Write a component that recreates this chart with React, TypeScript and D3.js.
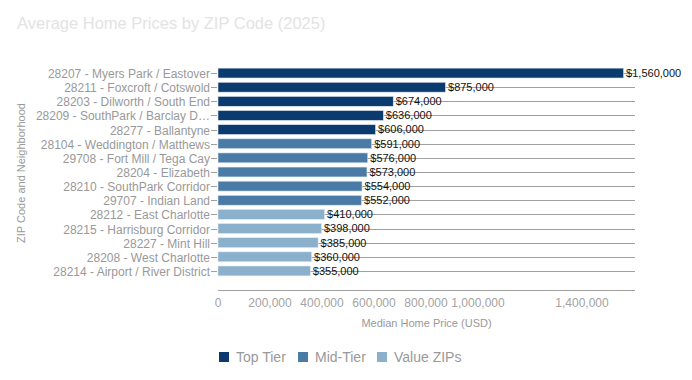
import React from "react";
import * as d3 from "d3";

const categories = [
  "28207 - Myers Park / Eastover",
  "28211 - Foxcroft / Cotswold",
  "28203 - Dilworth / South End",
  "28209 - SouthPark / Barclay D…",
  "28277 - Ballantyne",
  "28104 - Weddington / Matthews",
  "29708 - Fort Mill / Tega Cay",
  "28204 - Elizabeth",
  "28210 - SouthPark Corridor",
  "29707 - Indian Land",
  "28212 - East Charlotte",
  "28215 - Harrisburg Corridor",
  "28227 - Mint Hill",
  "28208 - West Charlotte",
  "28214 - Airport / River District",
];
const values = [1560000, 875000, 674000, 636000, 606000, 591000, 576000, 573000, 554000, 552000, 410000, 398000, 385000, 360000, 355000];
const tiers = ["Top Tier", "Top Tier", "Top Tier", "Top Tier", "Top Tier", "Mid-Tier", "Mid-Tier", "Mid-Tier", "Mid-Tier", "Mid-Tier", "Value ZIPs", "Value ZIPs", "Value ZIPs", "Value ZIPs", "Value ZIPs"];
const tierNames = ["Top Tier", "Mid-Tier", "Value ZIPs"];
const tierColors = ["#0b3a6f", "#4a7ba7", "#8ab0cb"];
const xTicks = [0, 200000, 400000, 600000, 800000, 1000000, 1400000];

const W = 692, H = 380;
const FONT = "'Liberation Sans', Arial, sans-serif";

export default function App() {
  const x = d3.scaleLinear().domain([0, 1600000]).range([218, 634]);
  const y = d3.scaleBand<string>().domain(categories).range([66, 278]).paddingInner(0.3).paddingOuter(0.15);
  const color = d3.scaleOrdinal<string, string>().domain(tierNames).range(tierColors);
  const fmt = d3.format(",");
  const legendX = [219, 298, 377];

  return (
    <svg width={W} height={H} style={{ position: "absolute", left: 0, top: 0 }} fontFamily={FONT}>
      <rect width={W} height={H} fill="#fff" />
      <text x={17} y={29} fontSize={16.5} fill="#e3e3e3">Average Home Prices by ZIP Code (2025)</text>
      {categories.map((c) => {
        const cy = Math.round(y(c)! + y.bandwidth() / 2) + 0.5;
        return <line key={"g" + c} x1={x(0)} x2={635} y1={cy} y2={cy} stroke="#a0a0a0" strokeWidth={1} />;
      })}
      <line x1={x(0)} x2={635} y1={290.5} y2={290.5} stroke="#a0a0a0" strokeWidth={1} />
      {categories.map((c, i) => (
        <rect key={"b" + c} x={x(0)} y={y(c)} width={x(values[i]) - x(0)} height={y.bandwidth()}
          fill={color(tiers[i])} stroke="#dfe8f0" strokeWidth={0.6} />
      ))}
      {categories.map((c, i) => (
        <text key={"v" + c} x={x(values[i]) + 2.5} y={y(c)! + y.bandwidth() / 2} dy="0.35em" fontSize={11} fill="#111">
          ${fmt(values[i])}
        </text>
      ))}
      {categories.map((c) => {
        const cy = Math.round(y(c)! + y.bandwidth() / 2) + 0.5;
        return (
          <g key={"y" + c}>
            <line x1={211} x2={217} y1={cy} y2={cy} stroke="#a0a0a0" />
            <text x={210} y={cy} dy="0.35em" textAnchor="end" fontSize={12} fill="#999">{c}</text>
          </g>
        );
      })}
      {xTicks.map((t) => (
        <text key={"x" + t} x={x(t)} y={307} textAnchor="middle" fontSize={12} fill="#a3a3a3">{fmt(t)}</text>
      ))}
      <text x={(x(0) + 635) / 2} y={327} textAnchor="middle" fontSize={11} fill="#999">Median Home Price (USD)</text>
      <text transform={`translate(25,${173}) rotate(-90)`} textAnchor="middle" fontSize={11} fill="#999">ZIP Code and Neighborhood</text>
      {tierNames.map((n, i) => (
        <g key={"l" + n}>
          <rect x={legendX[i]} y={352} width={10} height={10} fill={tierColors[i]} />
          <text x={legendX[i] + 17} y={362} fontSize={14} fill="#999">{n}</text>
        </g>
      ))}
    </svg>
  );
}
